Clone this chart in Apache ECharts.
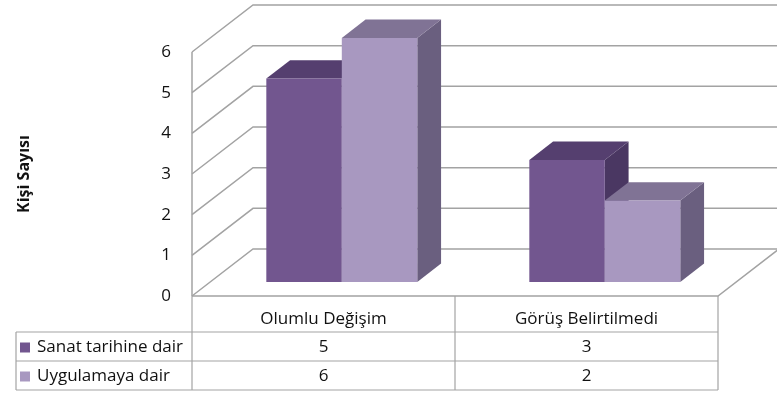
<!DOCTYPE html>
<html>
<head>
<meta charset="utf-8">
<script src="https://cdn.jsdelivr.net/npm/echarts@6/dist/echarts.min.js"></script>
<style>
  html, body { margin: 0; padding: 0; background: #fff; }
  #chart { width: 777px; height: 401px; }
</style>
</head>
<body>
<div id="chart"></div>
<script>
// ---- data ----
const categories = ['Olumlu Değişim', 'Görüş Belirtilmedi'];
const seriesNames = ['Sanat tarihine dair', 'Uygulamaya dair'];
const sanatValues = [5, 3];
const uygulamaValues = [6, 2];
const yTicks = [0, 1, 2, 3, 4, 5, 6];
const axisTitle = 'Kişi Sayısı';

// ---- look ----
const FONT = '"Open Sans", Lato, sans-serif';
const GRID_COLOR = '#a3a3a3';
const DEPTH = { dx: 61, dy: -47 };      // floor depth (front edge -> back wall)
const BAR_FRONT = 0.30, BAR_BACK = 0.69; // bar position within floor depth
const BAR_WIDTH = 0.287;                 // fraction of a category band per bar
const palettes = [
  { front: '#72568f', top: '#553f6f', side: '#4a3762' },
  { front: '#a898c0', top: '#807395', side: '#6a5f7f' }
];

const chart = echarts.init(document.getElementById('chart'), null, { renderer: 'canvas' });

// back wall, side wall and floor with the value gridlines
function wallRenderer(params, api) {
  const v = api.value(1);
  const cs = params.coordSys;
  const y = api.coord([0, v])[1];
  const style = { stroke: GRID_COLOR, lineWidth: 1.5, fill: null };
  const children = [
    { type: 'polyline', shape: { points: [[cs.x, y], [cs.x + DEPTH.dx, y + DEPTH.dy], [cs.x + cs.width + DEPTH.dx + 2, y + DEPTH.dy]] }, style }
  ];
  if (v === 0) {
    const yTop = api.coord([0, yTicks[yTicks.length - 1]])[1];
    children.push({ type: 'line', shape: { x1: cs.x, y1: yTop, x2: cs.x, y2: y }, style });
    children.push({ type: 'polyline', shape: { points: [[cs.x, y], [cs.x + cs.width, y], [cs.x + cs.width + DEPTH.dx, y + DEPTH.dy]] }, style });
  }
  return { type: 'group', children };
}

// 3D column: front face, top face and right side face
function barRenderer(idx) {
  const pal = palettes[idx];
  return function (params, api) {
    const cat = api.value(0), val = api.value(1);
    const base = api.coord([cat, 0]);
    const top = api.coord([cat, val]);
    const band = api.size([1, 0])[0];
    const w = band * BAR_WIDTH;
    const ox = DEPTH.dx * BAR_FRONT, oy = DEPTH.dy * BAR_FRONT;
    const bx = DEPTH.dx * (BAR_BACK - BAR_FRONT), by = DEPTH.dy * (BAR_BACK - BAR_FRONT);
    const L = base[0] - w + idx * w + ox, R = L + w;
    const T = top[1] + oy, B = base[1] + oy;
    return {
      type: 'group',
      children: [
        { type: 'polygon', shape: { points: [[R, T], [R + bx, T + by], [R + bx, B + by], [R, B]] }, style: { fill: pal.side } },
        { type: 'polygon', shape: { points: [[L, T], [L + bx, T + by], [R + bx, T + by], [R, T]] }, style: { fill: pal.top } },
        { type: 'rect', shape: { x: L, y: T, width: w, height: B - T }, style: { fill: pal.front } }
      ]
    };
  };
}

const valueSets = [sanatValues, uygulamaValues];

chart.setOption({
  animation: false,
  grid: { left: 192, right: 59, top: 52, bottom: 105 },
  xAxis: {
    type: 'category', data: categories,
    axisLine: { show: false }, axisTick: { show: false }, axisLabel: { show: false }
  },
  yAxis: {
    type: 'value', min: 0, max: 6, interval: 1,
    splitLine: { show: false }, axisLine: { show: false }, axisTick: { show: false },
    axisLabel: { margin: 21, fontSize: 17, color: '#111', fontFamily: FONT },
    name: axisTitle, nameLocation: 'middle', nameGap: 160, nameRotate: 90,
    nameTextStyle: { fontSize: 16, fontWeight: 'bold', color: '#111', fontFamily: FONT }
  },
  series: [
    { type: 'custom', name: 'walls', renderItem: wallRenderer, data: yTicks.map(v => [0, v]), z: 1, silent: true },
    ...valueSets.map((vals, i) => ({
      type: 'custom', name: seriesNames[i], renderItem: barRenderer(i),
      data: vals.map((v, c) => [c, v]), encode: { x: 0, y: 1 }, z: 2 + i
    }))
  ]
});

// data table under the plot
const gx0 = 192, gx1 = 718;
const floorY = chart.convertToPixel({ yAxisIndex: 0 }, 0);
const rowY = [floorY, 332, 361, 390];
const tableLeft = 16;
const lineStyle = { stroke: GRID_COLOR, lineWidth: 1.2 };
const graphics = [];
const mid = (gx0 + gx1) / 2;
[gx0, mid, gx1].forEach(x => graphics.push({ type: 'line', shape: { x1: x, y1: rowY[0], x2: x, y2: rowY[3] }, style: lineStyle, silent: true }));
graphics.push({ type: 'line', shape: { x1: tableLeft, y1: rowY[1], x2: tableLeft, y2: rowY[3] }, style: lineStyle });
[rowY[1], rowY[2], rowY[3]].forEach(y => graphics.push({ type: 'line', shape: { x1: tableLeft, y1: y, x2: gx1, y2: y }, style: lineStyle }));
const textStyle = { fontSize: 17, fontFamily: FONT, fill: '#111', align: 'center', verticalAlign: 'middle' };
categories.forEach((c, i) => {
  const cx = chart.convertToPixel({ xAxisIndex: 0 }, i);
  graphics.push({ type: 'text', x: cx, y: (rowY[0] + rowY[1]) / 2 + 5, style: Object.assign({ text: c }, textStyle) });
  valueSets.forEach((vals, s) => {
    graphics.push({ type: 'text', x: cx, y: (rowY[s + 1] + rowY[s + 2]) / 2 + 1, style: Object.assign({ text: String(vals[i]) }, textStyle) });
  });
});
seriesNames.forEach((n, s) => {
  const cy = (rowY[s + 1] + rowY[s + 2]) / 2 + 1;
  graphics.push({ type: 'rect', shape: { x: 20, y: cy - 5, width: 10, height: 10 }, style: { fill: palettes[s].front } });
  graphics.push({ type: 'text', x: 37, y: cy, style: Object.assign({ text: n }, textStyle, { align: 'left' }) });
});
chart.setOption({ graphic: graphics });
</script>
</body>
</html>
